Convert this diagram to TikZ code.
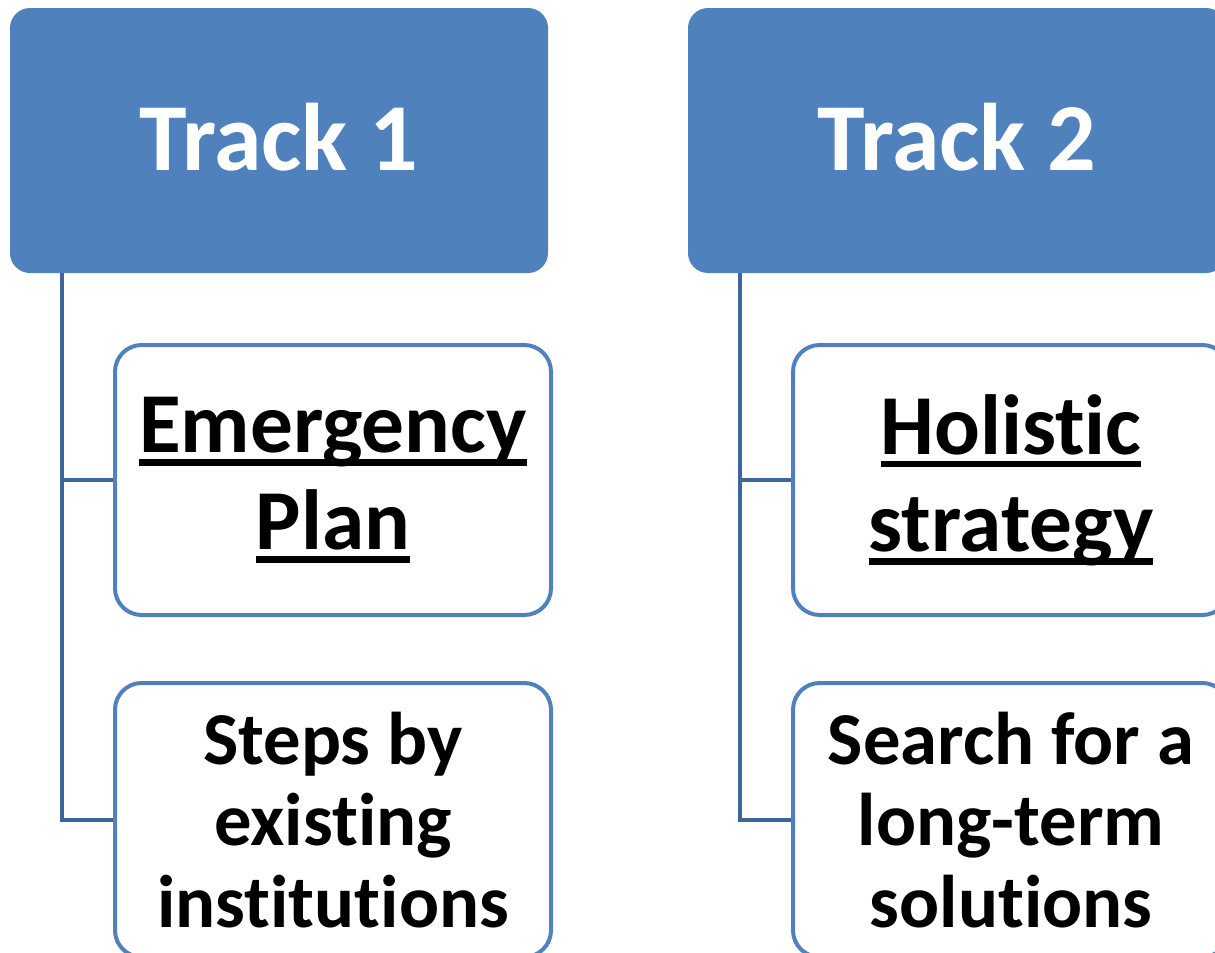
\documentclass[tikz,border=0pt]{standalone}
\usepackage{fontspec}
\setmainfont{Carlito}[Ligatures=NoCommon]
\newcommand{\thickul}[1]{\leavevmode\setbox0=\hbox{#1}\rlap{\rule[-10pt]{\wd0}{5pt}}\box0}
\definecolor{trackblue}{RGB}{79,129,189}
\definecolor{linkblue}{RGB}{62,102,152}
\tikzset{
  trackbox/.style={rectangle, rounded corners=15pt, fill=trackblue, draw=none,
    text=white, font=\fontsize{72}{80}\selectfont\bfseries,
    minimum width=403.5pt, minimum height=198.75pt, inner sep=0pt},
  itembox/.style={rectangle, rounded corners=20pt, fill=white, draw=trackblue,
    line width=3pt, text=black, align=flush center, text width=327pt,
    minimum width=327pt, minimum height=202.5pt, inner sep=0pt},
  link/.style={draw=linkblue, line width=3pt}
}
\begin{document}
\begin{tikzpicture}[x=0.75pt,y=0.75pt,yscale=-1,xscale=1]
\useasboundingbox (0,0) rectangle (1215,953);
\clip (0,0) rectangle (1215,953);

% Track headers
\node[trackbox] (t1) at (279,140.5) {\raisebox{6pt}{Track 1}};
\node[trackbox] (t2) at (957,140.5) {\raisebox{6pt}{Track 2}};

% Track 1 items
\node[itembox, font=\fontsize{64}{73}\selectfont\bfseries] (t1a) at (333,480) {\thickul{Emergency}\\\thickul{Plan}};
\node[itembox, font=\fontsize{56}{61}\selectfont\bfseries, minimum height=205.5pt] (t1b) at (333,820) {Steps by\\existing\\institutions};

% Track 2 items
\node[itembox, font=\fontsize{64}{73}\selectfont\bfseries] (t2a) at (1011,480) {\thickul{Holistic}\\\thickul{strategy}};
\node[itembox, font=\fontsize{56}{61}\selectfont\bfseries, minimum height=205.5pt] (t2b) at (1011,820) {Search for a\\long-term\\solutions};

% Connectors
\draw[link] ([xshift=39pt]t1.south west) |- (t1a.west);
\draw[link] ([xshift=39pt]t1.south west) |- (t1b.west);
\draw[link] ([xshift=39pt]t2.south west) |- (t2a.west);
\draw[link] ([xshift=39pt]t2.south west) |- (t2b.west);

\end{tikzpicture}
\end{document}
